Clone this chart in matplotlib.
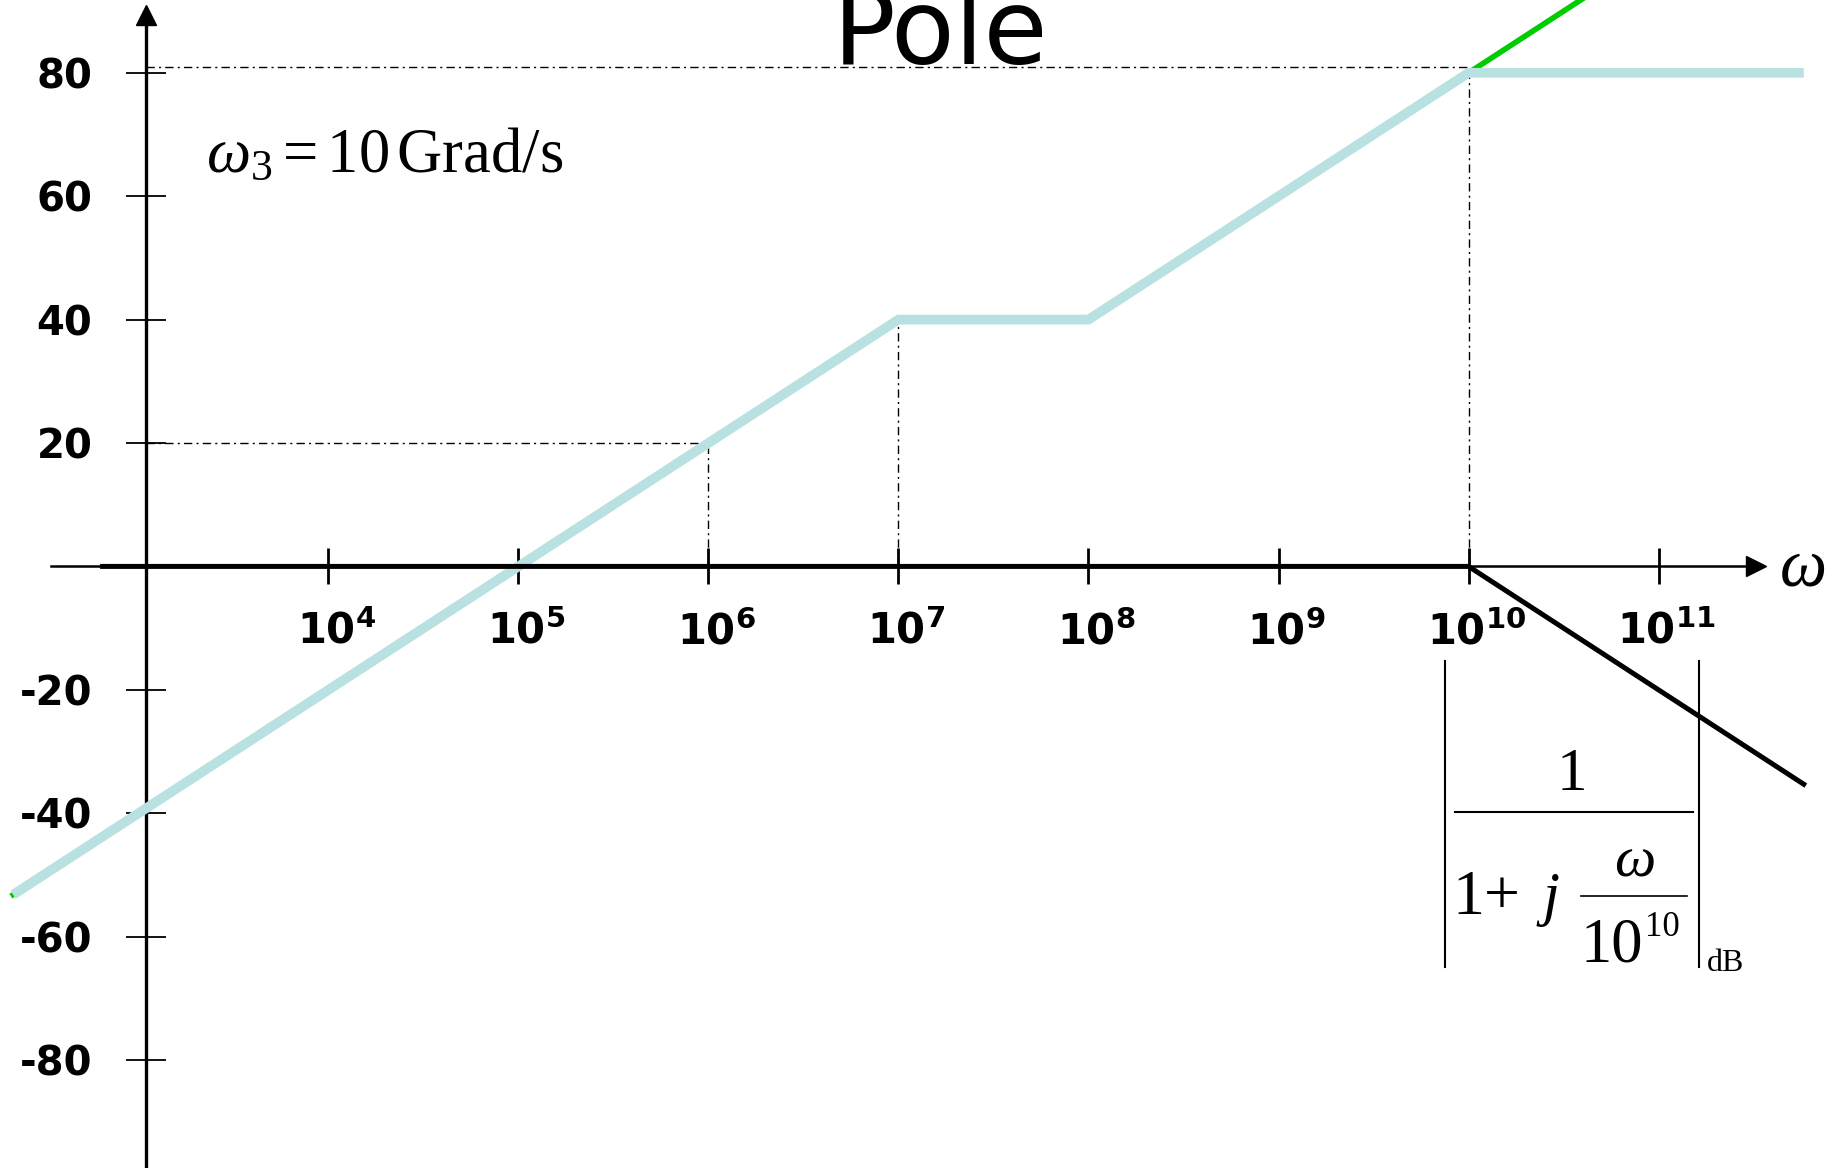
import matplotlib.pyplot as plt
from matplotlib.lines import Line2D
from matplotlib.ticker import NullLocator
from matplotlib.transforms import ScaledTranslation

plt.rcParams['mathtext.fontset'] = 'custom'
plt.rcParams['mathtext.rm'] = 'Liberation Serif'
plt.rcParams['mathtext.it'] = 'Liberation Serif:italic'
plt.rcParams['mathtext.bf'] = 'DejaVu Sans:bold'

# asymptotic magnitude curves (omega in rad/s, magnitude in dB)
w_orig = [2.2e2, 1e7, 1e8, 1e11]
db_orig = [-53.2, 40, 40, 100]
w_new = [2.2e2, 1e7, 1e8, 1e10, 5.8e11]
db_new = [-53.2, 40, 40, 80, 80]
w_pole = [6.5e2, 1e10, 5.8e11]
db_pole = [0, 0, -35.3]

x_ticks = [1e4, 1e5, 1e6, 1e7, 1e8, 1e9, 1e10, 1e11]
x_exps = ['4', '5', '6', '7', '8', '9', '10', '11']
y_ticks = [-80, -60, -40, -20, 20, 40, 60, 80]
y_labels = ['-80', '-60', '-40', '-20', '20', '40', '60', '80']

# dash-dot guides: (omega, dB) corner points
guide_w = [1e6, 1e7, 1e10]
guide_db = [20, 40, 81]

w_axis = 10**3.04  # where the dB axis crosses

fig = plt.figure(figsize=(18.43, 11.68), dpi=100)
ax = fig.add_axes([0, 0, 1, 1])
ax.set_xscale('log')
ax.set_xlim(10**2.273, 10**11.97)
ax.set_ylim(-97.5, 91.8)

for s in ['top', 'right']:
    ax.spines[s].set_visible(False)
ax.spines['left'].set_position(('data', w_axis))
ax.spines['bottom'].set_position(('data', 0))
ax.spines['left'].set_linewidth(2.4)
ax.spines['bottom'].set_linewidth(1.8)
ax.spines['left'].set_bounds(-97.5, 89.5)
ax.spines['bottom'].set_bounds(10**2.54, 10**11.49)
ax.plot(10**11.51, 0, marker='>', ms=14, color='k', clip_on=False)
ax.plot(w_axis, 89.4, marker='^', ms=14, color='k', clip_on=False)

ax.xaxis.set_minor_locator(NullLocator())
ax.set_xticks(x_ticks)
ax.set_xticklabels([r'$\mathbf{10^{%s}}$' % e for e in x_exps])
ax.set_yticks(y_ticks)
ax.set_yticklabels(y_labels, fontweight='bold', family='DejaVu Sans')
ax.tick_params(axis='x', direction='inout', length=26, width=2, pad=19, labelsize=30)
ax.tick_params(axis='y', direction='inout', length=29, width=1.3, pad=24, labelsize=29)
shift = ScaledTranslation(8 / 100, 0, fig.dpi_scale_trans)
for lbl in ax.get_xticklabels():
    lbl.set_transform(lbl.get_transform() + shift)

# guide lines
dd = (0, (6, 3, 1.5, 3))
ax.plot([w_axis, guide_w[0]], [guide_db[0], guide_db[0]], color='k', lw=1, ls=dd)
ax.plot([w_axis, guide_w[2]], [guide_db[2], guide_db[2]], color='k', lw=1, ls=dd)
for w, d in zip(guide_w, guide_db):
    ax.plot([w, w], [0, d], color='k', lw=1, ls=dd)

ax.plot(w_orig, db_orig, color='#00cc00', lw=4, zorder=3)
ax.plot(w_new, db_new, color='#b9e1e1', lw=7, zorder=4, solid_capstyle='butt')
ax.plot(w_pole, db_pole, color='k', lw=3.6, zorder=5)

ax.text(10**7.22, 81.5, 'Pole', fontsize=75, ha='center', va='baseline', family='DejaVu Sans')
ax.text(10**3.355, 63.8, r'$\omega_3 = 10\,\mathrm{Grad/s}$', fontsize=45, ha='left', va='baseline')
ax.text(10**11.754, 0, r'$\omega$', fontsize=48, ha='center', va='center')

# |1/(1+j w/1e10)|_dB annotation
W, H = 1843.0, 1168.0
def fx(x):
    return x / W
def fy(y):
    return 1 - y / H
for bx in [1444.6, 1698.5]:
    fig.add_artist(Line2D([fx(bx), fx(bx)], [fy(660.6), fy(967.3)], color='k', lw=1.5))
fig.add_artist(Line2D([fx(1455), fx(1693)], [fy(812), fy(812)], color='k', lw=1.5))
fig.add_artist(Line2D([fx(1581), fx(1687)], [fy(896), fy(896)], color='k', lw=1.2))
fig.text(fx(1571.5), fy(790), '1', fontsize=44, ha='center', va='baseline', family='Liberation Serif')
fig.text(fx(1452), fy(914), '1+', fontsize=46, ha='left', va='baseline', family='Liberation Serif')
fig.text(fx(1543), fy(914), 'j', fontsize=44, ha='left', va='baseline', family='Liberation Serif', style='italic')
fig.text(fx(1634), fy(876), r'$\omega$', fontsize=42, ha='center', va='baseline')
fig.text(fx(1581), fy(961), '10', fontsize=45, ha='left', va='baseline', family='Liberation Serif')
fig.text(fx(1645), fy(936), '10', fontsize=25, ha='left', va='baseline', family='Liberation Serif')
fig.text(fx(1707), fy(971), 'dB', fontsize=23, ha='left', va='baseline', family='Liberation Serif')

fig.savefig('out.png', dpi=100)
